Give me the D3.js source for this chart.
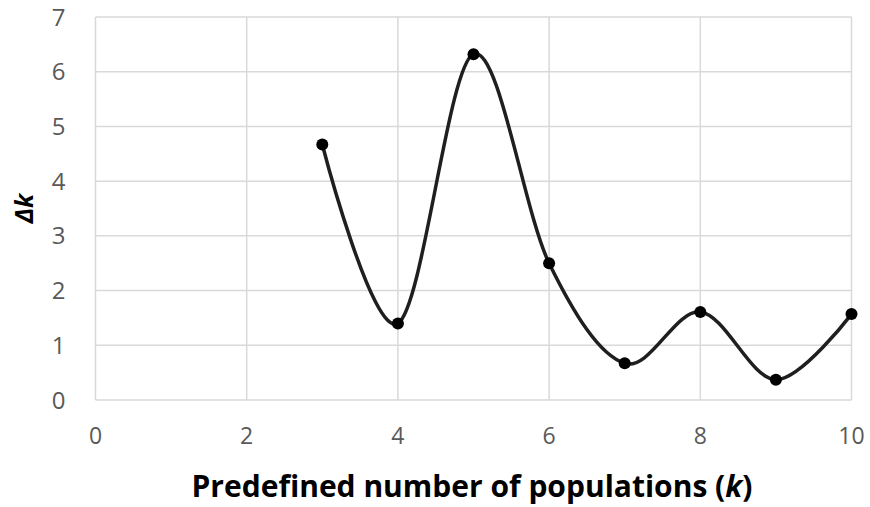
<!DOCTYPE html>
<html>
<head>
<meta charset="utf-8">
<script src="https://cdn.jsdelivr.net/npm/d3@7"></script>
<style>
  html, body { margin: 0; padding: 0; background: #fff; }
  svg { display: block; }
</style>
</head>
<body>
<svg id="chart" width="870" height="507"></svg>
<script>
// Delta-k values for each predefined number of populations
const kValues = [3, 4, 5, 6, 7, 8, 9, 10];
const deltaK = [4.67, 1.40, 6.32, 2.50, 0.67, 1.61, 0.37, 1.57];
const xTicks = [0, 2, 4, 6, 8, 10];
const yTicks = [0, 1, 2, 3, 4, 5, 6, 7];
const xTitle = "Predefined number of populations (";
const yTitle = "Δk";

const svg = d3.select("#chart");
const margin = { left: 95.5, right: 18.5, top: 17, bottom: 107 };
const W = 870, H = 507;

const x = d3.scaleLinear().domain([0, 10]).range([margin.left, W - margin.right]);
const y = d3.scaleLinear().domain([0, 7]).range([H - margin.bottom, margin.top]);

const grid = svg.append("g");
grid.selectAll("line.v").data(xTicks).join("line")
  .attr("x1", d => x(d)).attr("x2", d => x(d))
  .attr("y1", y(0)).attr("y2", y(7))
  .attr("stroke", "#d9d9d9").attr("stroke-width", 1.5);
grid.selectAll("line.h").data(yTicks).join("line")
  .attr("x1", x(0)).attr("x2", x(10))
  .attr("y1", d => y(d)).attr("y2", d => y(d))
  .attr("stroke", "#d9d9d9").attr("stroke-width", 1.5);

// Tick labels
const font = "'Open Sans', 'Noto Sans', sans-serif";
svg.append("g").selectAll("text").data(yTicks).join("text")
  .attr("x", x(0) - 37).attr("y", d => y(d))
  .attr("dy", "0.36em")
  .attr("text-anchor", "middle")
  .attr("font-family", font).attr("font-size", 24)
  .attr("fill", "#595959")
  .text(d => d);

svg.append("g").selectAll("text").data(xTicks).join("text")
  .attr("x", d => x(d)).attr("y", y(0) + 44)
  .attr("text-anchor", "middle")
  .attr("font-family", font).attr("font-size", 23)
  .attr("fill", "#595959")
  .text(d => d);

// Axis titles
const xt = svg.append("text")
  .attr("x", 472).attr("y", 497)
  .attr("text-anchor", "middle")
  .attr("font-family", font).attr("font-size", 30).attr("font-weight", "bold")
  .attr("fill", "#000");
xt.append("tspan").text(xTitle);
xt.append("tspan").attr("font-style", "italic").text("k");
xt.append("tspan").text(")");

svg.append("text")
  .attr("transform", `translate(33, ${y(3.5)}) rotate(-90)`)
  .attr("text-anchor", "middle")
  .attr("font-family", font).attr("font-size", 25).attr("font-weight", "bold")
  .attr("font-style", "italic")
  .attr("fill", "#000")
  .text(yTitle);

// Smoothed series line
const pts = kValues.map((k, i) => [k, deltaK[i]]);
const line = d3.line()
  .x(d => x(d[0])).y(d => y(d[1]))
  .curve(d3.curveCardinal.tension(0));
svg.append("path")
  .datum(pts)
  .attr("d", line)
  .attr("fill", "none")
  .attr("stroke", "#1f1f1f")
  .attr("stroke-width", 3.5);

svg.append("g").selectAll("circle").data(pts).join("circle")
  .attr("cx", d => x(d[0])).attr("cy", d => y(d[1]))
  .attr("r", 6)
  .attr("fill", "#000");
</script>
</body>
</html>
